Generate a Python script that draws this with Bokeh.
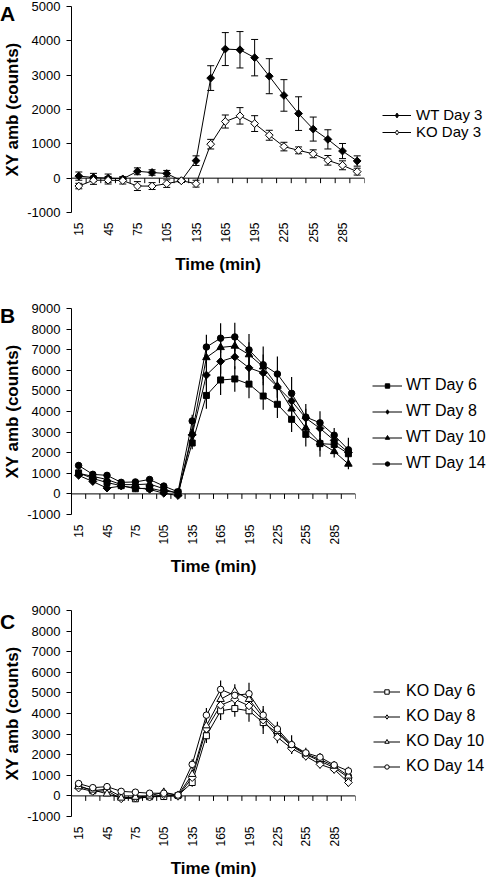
import math
from bokeh.plotting import figure
from bokeh.models import Range1d, FixedTicker, Legend, LegendItem, Div
from bokeh.layouts import column
from bokeh.embed import file_html
from bokeh.resources import INLINE

FONT = "Liberation Sans"

# ---------------- data ----------------
times = [15, 30, 45, 60, 75, 90, 105, 120, 135, 150,
         165, 180, 195, 210, 225, 240, 255, 270, 285, 300]
x_tick_labels = [15, 45, 75, 105, 135, 165, 195, 225, 255, 285]
y_ticks_a = [-1000, 0, 1000, 2000, 3000, 4000, 5000]
y_ticks_bc = [-1000, 0, 1000, 2000, 3000, 4000, 5000, 6000, 7000, 8000, 9000]

wt_day3 = [60, 20, 0, -20, 200, 165, 135, -75, 510, 2915,
           3760, 3740, 3510, 2970, 2410, 1880, 1430, 1130, 790, 500]
wt_day3_err = [120, 120, 120, 60, 100, 80, 90, 40, 140, 360,
               480, 530, 530, 510, 460, 490, 350, 280, 220, 150]
ko_day3 = [-230, -60, -60, -70, -230, -230, -160, -75, -160, 990,
           1650, 1815, 1590, 1250, 920, 810, 710, 520, 375, 190]
ko_day3_err = [80, 120, 110, 100, 130, 100, 110, 50, 100, 140,
               190, 240, 230, 145, 125, 100, 115, 140, 130, 100]

wt_day6 = [1020, 750, 550, 400, 250, 280, 130, 80, 2470, 4780,
           5530, 5580, 5330, 4750, 4350, 3620, 2890, 2440, 2400, 1950]
wt_day6_err = [150, 150, 150, 120, 120, 120, 120, 80, 300, 650,
               730, 620, 690, 670, 670, 620, 590, 640, 350, 300]
wt_day8 = [900, 600, 280, 380, 300, 220, 30, -80, 2870, 5770,
           6430, 6650, 6120, 5870, 5200, 4510, 3680, 3180, 2600, 2010]
wt_day8_err = [150, 150, 150, 120, 120, 120, 120, 80, 300, 500,
               600, 600, 600, 600, 550, 500, 450, 400, 300, 300]
wt_day10 = [1000, 850, 700, 450, 450, 480, 250, 0, 2950, 6620,
            7110, 7180, 6760, 6170, 5230, 4130, 3200, 2490, 2060, 1450]
wt_day10_err = [150, 150, 150, 120, 120, 120, 120, 80, 300, 500,
                600, 600, 600, 600, 550, 500, 450, 400, 290, 250]
wt_day14 = [1380, 950, 900, 560, 580, 700, 380, 100, 3540, 7130,
            7560, 7620, 6990, 6270, 5820, 4880, 3730, 3450, 2850, 2140]
wt_day14_err = [150, 150, 150, 120, 120, 120, 120, 80, 300, 600,
                720, 690, 770, 880, 850, 800, 640, 560, 350, 590]

ko_day6 = [500, 250, 330, -30, -140, -40, -30, 20, 650, 2920,
           4130, 4240, 4130, 3560, 3050, 2410, 2010, 1690, 1370, 890]
ko_day6_err = [120, 100, 100, 100, 100, 100, 100, 60, 200, 350,
               450, 400, 530, 560, 300, 300, 250, 200, 200, 200]
ko_day8 = [380, 220, 250, -140, -100, -60, 60, -20, 890, 3250,
           4400, 4690, 4370, 3680, 2850, 2300, 1930, 1530, 1290, 650]
ko_day8_err = [120, 100, 100, 100, 100, 100, 100, 60, 200, 350,
               400, 350, 400, 400, 300, 250, 200, 200, 200, 200]
ko_day10 = [450, 290, 100, -100, -60, 0, 180, 30, 1050, 3410,
            4690, 5070, 4690, 3810, 3130, 2460, 2040, 1770, 1450, 970]
ko_day10_err = [120, 100, 100, 100, 100, 100, 100, 60, 200, 350,
                400, 350, 400, 400, 300, 250, 200, 200, 200, 200]
ko_day14 = [600, 400, 450, 220, 180, 130, 130, 40, 1530, 3920,
            5170, 4880, 4960, 3920, 3250, 2490, 2090, 1880, 1500, 1210]
ko_day14_err = [120, 100, 100, 100, 100, 100, 100, 60, 250, 350,
                430, 350, 530, 450, 350, 450, 250, 200, 200, 200]

# ---------------- layout constants ----------------
FRAME_H = 206
LEFT = 66
TOP = 6
FIG_W = 484
DIAMOND = dict(marker="square", angle=math.pi / 4, size=5.5, legend_marker="diamond")
SQUARE = dict(marker="square", angle=0, size=6, legend_marker="square")
TRIANGLE = dict(marker="triangle", angle=0, size=7.5, legend_marker="triangle")
CIRCLE = dict(marker="circle", angle=0, size=6.5, legend_marker="circle")
NAN = float("nan")


def make_panel(series, yticks, axis_w, bottom, legend_loc, legend_font,
               glyph_w, glyph_h, label_h, spacing, standoff, caps, err_w):
    ymin, ymax = yticks[0], yticks[-1]
    step = times[1] - times[0]
    x0, x1 = times[0] - step / 2, times[-1] + step / 2
    right = FIG_W - LEFT - axis_w
    p = figure(width=FIG_W, height=TOP + FRAME_H + bottom,
               frame_width=axis_w, frame_height=FRAME_H,
               x_range=Range1d(x0, x1), y_range=Range1d(ymin, ymax),
               output_backend="svg", toolbar_location=None,
               min_border_left=LEFT, min_border_right=right,
               min_border_top=TOP, min_border_bottom=bottom)
    p.outline_line_color = None
    p.xgrid.visible = False
    p.ygrid.visible = False
    p.background_fill_color = "white"
    p.border_fill_color = "white"

    xa = p.xaxis[0]
    xa.ticker = FixedTicker(ticks=x_tick_labels)
    xa.major_label_orientation = math.pi / 2
    xa.axis_line_color = None
    xa.major_tick_line_color = None
    xa.minor_tick_line_color = None
    xa.major_tick_out = 0
    xa.major_tick_in = 0
    xa.major_label_standoff = 10
    xa.major_label_text_font = FONT
    xa.major_label_text_font_size = "12px"
    xa.major_label_text_color = "black"
    xa.axis_label = "Time (min)"
    xa.axis_label_text_font = FONT
    xa.axis_label_text_font_style = "bold"
    xa.axis_label_text_font_size = "17px"
    xa.axis_label_text_color = "black"
    xa.axis_label_standoff = 9

    ya = p.yaxis[0]
    ya.ticker = FixedTicker(ticks=yticks)
    ya.axis_line_color = "black"
    ya.major_tick_line_color = "black"
    ya.major_tick_out = 5
    ya.major_tick_in = 0
    ya.minor_tick_line_color = None
    ya.major_label_standoff = 6
    ya.major_label_text_font = FONT
    ya.major_label_text_font_size = "13px"
    ya.major_label_text_color = "black"
    ya.major_label_overrides = {t: str(t) for t in yticks}
    ya.axis_label = "XY amb (counts)"
    ya.axis_label_text_font = FONT
    ya.axis_label_text_font_style = "bold"
    ya.axis_label_text_font_size = "17px"
    ya.axis_label_text_color = "black"
    ya.axis_label_standoff = 2

    # category axis crossing at zero, with tick marks between categories
    p.segment(x0=[x0], y0=[0], x1=[x1], y1=[0], line_color="black", line_width=1)
    tick_len = 5 * (ymax - ymin) / FRAME_H
    bounds = [t + step / 2 for t in times]
    p.segment(x0=bounds, y0=[0] * len(bounds), x1=bounds, y1=[-tick_len] * len(bounds),
              line_color="black", line_width=1)

    # error bars
    for s in series:
        lo = [v - e for v, e in zip(s["y"], s["err"])]
        hi = [v + e for v, e in zip(s["y"], s["err"])]
        p.segment(x0=times, y0=lo, x1=times, y1=hi, line_color="black", line_width=err_w)
        if caps:
            p.scatter(times, hi, marker="dash", size=7, line_color="black", line_width=1)
            p.scatter(times, lo, marker="dash", size=7, line_color="black", line_width=1)

    lines = []
    for s in series:
        lines.append(p.line(times, s["y"], line_color="black", line_width=1))
    items = []
    for s, lr in zip(series, lines):
        m = s["m"]
        p.scatter(times, s["y"], marker=m["marker"], angle=m["angle"], size=m["size"],
                  fill_color=s["fill"], line_color="black", line_width=1)
        # legend-only marker renderer (a single undrawn NaN point): upright legend symbol
        lm = p.scatter(x=[NAN], y=[NAN], marker=m["legend_marker"], size=m["size"],
                       fill_color=s["fill"], line_color="black", line_width=1)
        items.append(LegendItem(label=s["name"], renderers=[lr, lm]))

    legend = Legend(items=items, location=legend_loc, padding=0, margin=0,
                    spacing=spacing, glyph_width=glyph_w, glyph_height=glyph_h,
                    label_height=label_h, label_standoff=standoff,
                    label_text_font=FONT, label_text_font_size=legend_font,
                    label_text_color="black",
                    border_line_color=None, background_fill_alpha=0)
    p.add_layout(legend, "right")
    return p


def letter_div(letter, fig):
    h = 24
    top = 3 - fig.height
    return Div(text=f'<div style="font-family:\'{FONT}\';font-weight:bold;font-size:21px;'
                    f'line-height:21px;color:black;margin:0;padding:0;">{letter}</div>',
               width=30, height=h, margin=(top, 0, -(top + h), 0))


pA = make_panel([
    dict(name="WT Day 3", y=wt_day3, err=wt_day3_err, m=DIAMOND, fill="black"),
    dict(name="KO Day 3", y=ko_day3, err=ko_day3_err, m=DIAMOND, fill="white"),
], y_ticks_a, 293, 90, (18, 72), "15px", 29, 12, 17, 0, 5, True, 1)

pB = make_panel([
    dict(name="WT Day 6", y=wt_day6, err=wt_day6_err, m=SQUARE, fill="black"),
    dict(name="WT Day 8", y=wt_day8, err=wt_day8_err, m=DIAMOND, fill="black"),
    dict(name="WT Day 10", y=wt_day10, err=wt_day10_err, m=TRIANGLE, fill="black"),
    dict(name="WT Day 14", y=wt_day14, err=wt_day14_err, m=CIRCLE, fill="black"),
], y_ticks_bc, 284, 90, (17, 41), "16px", 30, 11, 20, 6, 4, False, 1.2)

pC = make_panel([
    dict(name="KO Day 6", y=ko_day6, err=ko_day6_err, m=SQUARE, fill="white"),
    dict(name="KO Day 8", y=ko_day8, err=ko_day8_err, m=DIAMOND, fill="white"),
    dict(name="KO Day 10", y=ko_day10, err=ko_day10_err, m=TRIANGLE, fill="white"),
    dict(name="KO Day 14", y=ko_day14, err=ko_day14_err, m=CIRCLE, fill="white"),
], y_ticks_bc, 284, 60, (18, 40), "16px", 27, 11, 20, 5, 6, False, 1.2)

layout = column(pA, letter_div("A", pA), pB, letter_div("B", pB), pC, letter_div("C", pC),
                spacing=0)
open("out.html", "w").write(file_html(layout, INLINE))
